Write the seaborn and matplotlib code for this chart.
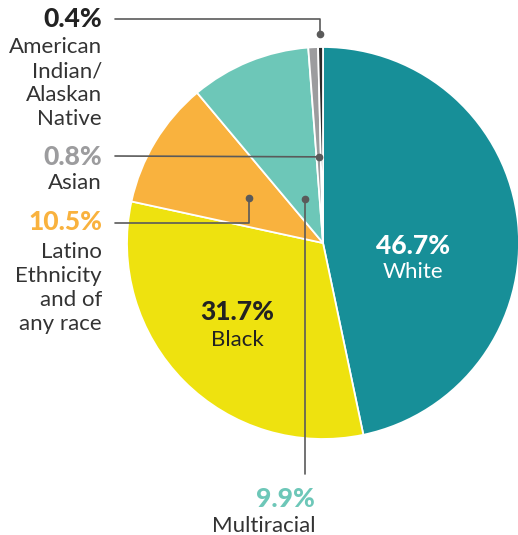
import numpy as np
import matplotlib
matplotlib.use("Agg")
import matplotlib.pyplot as plt
import seaborn as sns

# data, clockwise from 12 o'clock
groups = ["White", "Black", "Latino\nEthnicity\nand of\nany race", "Multiracial", "Asian",
          "American\nIndian/\nAlaskan\nNative"]
shares = [46.7, 31.7, 10.5, 9.9, 0.8, 0.4]
colors = ["#178F98", "#EEE20F", "#F9B23E", "#6DC7B8", "#9C9C9E", "#2B2B2B"]
pct_colors = ["white", "#222222", "#F9B23E", "#6DC7B8", "#9C9C9E", "#222222"]

W, H = 518, 535
CX, CY, R = 323, 243, 196
LINE = "#5A5A5A"
STEP = 24  # pixel gap between label lines

sns.set_theme(style="white")
plt.rcParams["font.family"] = ["Lato", "DejaVu Sans"]

fig = plt.figure(figsize=(W / 100, H / 100), dpi=100)
ax = fig.add_axes([0, 0, 1, 1])

# pie drawn in pixel space (y flipped by helper)
def Y(p):
    return H - p

wedges, _ = ax.pie(shares, colors=colors, startangle=90, counterclock=False,
                   center=(CX, Y(CY)), radius=R,
                   wedgeprops=dict(edgecolor="white", linewidth=1.3))
ax.set_xlim(0, W)
ax.set_ylim(0, H)
ax.set_aspect("equal")
ax.axis("off")


def anchor(i, frac):
    w = wedges[i]
    th = np.deg2rad((w.theta1 + w.theta2) / 2)
    return CX + frac * R * np.cos(th), CY - frac * R * np.sin(th)


def lead(pts):
    xs, ys = zip(*pts)
    ax.plot(xs, [Y(v) for v in ys], color=LINE, lw=1.2, zorder=4)
    ax.plot([xs[-1]], [Y(ys[-1])], "o", color=LINE, ms=4.5, zorder=5)


def label(i, x, y_pct, y_first):
    ax.text(x, Y(y_pct), f"{shares[i]}%", color=pct_colors[i], fontsize=19,
            fontweight="black", ha="right", va="center")
    for k, line in enumerate(groups[i].split("\n")):
        ax.text(x, Y(y_first + k * STEP), line, color="#333333", fontsize=16,
                ha="right", va="center")


# inside labels
ax.text(413, Y(246), f"{shares[0]}%", color=pct_colors[0], fontsize=19, fontweight="black",
        ha="center", va="center")
ax.text(413, Y(272), groups[0], color="white", fontsize=16, ha="center", va="center")
ax.text(237, Y(312), f"{shares[1]}%", color=pct_colors[1], fontsize=19, fontweight="black",
        ha="center", va="center")
ax.text(237, Y(340), groups[1], color="#222222", fontsize=16, ha="center", va="center")

RX = 102

# American Indian / Alaskan Native
x, y = anchor(5, 1.065)
lead([(115, 19), (x, 19), (x, y)])
label(5, RX, 19, 47)

# Asian
x, y = anchor(4, 0.44)
lead([(115, 156), (x, y)])
label(4, RX, 157, 183)

# Latino
x, y = anchor(2, 0.44)
lead([(115, 223), (x, 223), (x, y)])
label(2, RX, 222, 252)

# Multiracial
x, y = anchor(3, 0.24)
lead([(x, 474), (x, y)])
label(3, 315, 499, 526)

fig.savefig("out.png", dpi=100, facecolor="white")
